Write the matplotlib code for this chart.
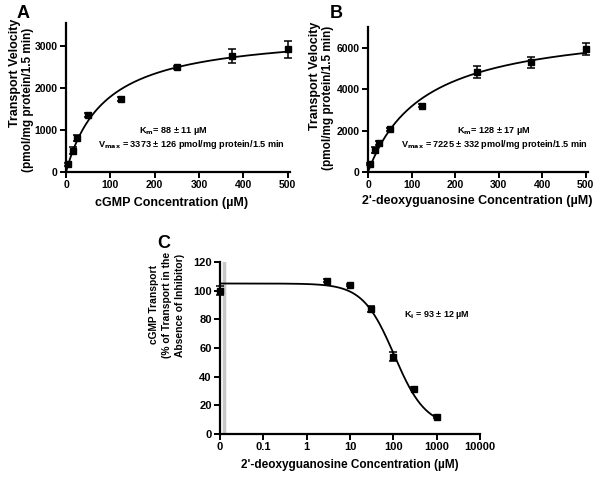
import numpy as np
import matplotlib.pyplot as plt

plt.rcParams['font.family'] = ['Liberation Sans', 'DejaVu Sans']
plt.rcParams['font.weight'] = 'bold'

# panel A - cGMP uptake
a_conc = [5, 15, 25, 50, 125, 250, 375, 500]
a_vel = [180, 510, 810, 1350, 1740, 2490, 2760, 2920]
a_err = [40, 90, 60, 50, 40, 40, 160, 200]
a_km, a_vmax = 88, 3373

# panel B - 2'-deoxyguanosine uptake
b_conc = [5, 15, 25, 50, 125, 250, 375, 500]
b_vel = [380, 1060, 1390, 2060, 3210, 4830, 5300, 5950]
b_err = [60, 150, 100, 80, 60, 280, 260, 280]
b_km, b_vmax = 128, 7225

# panel C - inhibition (0 plotted at 0.01)
c_conc = [0.01, 3, 10, 30, 100, 300, 1000]
c_pct = [100, 107, 104, 87, 54, 31.5, 12]
c_err = [3, 1, 1, 2, 3, 1, 1]
c_top, c_bottom, c_ic50, c_hill = 105, 5, 105, 1.2
c_ticks = [0.01, 0.1, 1, 10, 100, 1000, 10000]
c_ticklabels = ['0', '0.1', '1', '10', '100', '1000', '10000']

W, H = 600, 479
fig = plt.figure(figsize=(6, 4.79), dpi=100)


def box(x0, y0, x1, y1):
    # pixel box (top-left origin) -> figure fraction
    return [x0 / W, 1 - y1 / H, (x1 - x0) / W, (y1 - y0) / H]


def style(ax, fs):
    for s in ['top', 'right']:
        ax.spines[s].set_visible(False)
    for s in ['left', 'bottom']:
        ax.spines[s].set_linewidth(1.6)
    ax.tick_params(width=1.4, length=4, labelsize=fs, pad=2)
    for lab in ax.get_xticklabels() + ax.get_yticklabels():
        lab.set_fontweight('bold')


def mm_panel(ax, conc, vel, err, km, vmax, ymax, yticks):
    xs = np.linspace(0, 500, 300)
    ax.plot(xs, vmax * xs / (km + xs), color='black', lw=1.3, zorder=2)
    ax.errorbar(conc, vel, yerr=err, fmt='s', color='black', ms=5,
                capsize=3, elinewidth=1.1, capthick=1.1, zorder=3, clip_on=False)
    ax.set_xlim(0, 505)
    ax.set_ylim(0, ymax)
    ax.set_xticks([0, 100, 200, 300, 400, 500])
    ax.set_yticks(yticks)
    style(ax, 7.5)


axA = fig.add_axes(box(66, 23, 290, 172))
mm_panel(axA, a_conc, a_vel, a_err, a_km, a_vmax, 3550, [0, 1000, 2000, 3000])
axA.text(0.48, 0.275, r'K$_\mathbf{m}$= 88 ± 11 µM', transform=axA.transAxes,
         ha='center', va='center', fontsize=6.6, fontweight='bold')
axA.text(0.56, 0.185, r'V$_\mathbf{max}$ = 3373 ± 126 pmol/mg protein/1.5 min',
         transform=axA.transAxes, ha='center', va='center', fontsize=6.6,
         fontweight='bold')

axB = fig.add_axes(box(368, 27, 588, 172))
mm_panel(axB, b_conc, b_vel, b_err, b_km, b_vmax, 7000, [0, 2000, 4000, 6000])
axB.text(0.57, 0.28, r'K$_\mathbf{m}$= 128 ± 17 µM', transform=axB.transAxes,
         ha='center', va='center', fontsize=6.6, fontweight='bold')
axB.text(0.575, 0.19, r'V$_\mathbf{max}$ = 7225 ± 332 pmol/mg protein/1.5 min',
         transform=axB.transAxes, ha='center', va='center', fontsize=6.6,
         fontweight='bold')

# panel C
axC = fig.add_axes(box(220, 262, 480, 434))
axC.set_xscale('log')
axC.axvline(0.0125, color='0.78', lw=2.5, zorder=1)
xs = np.logspace(-2, 3, 400)
axC.plot(xs, c_bottom + (c_top - c_bottom) / (1 + (xs / c_ic50) ** c_hill),
         color='black', lw=1.3, zorder=2)
axC.errorbar(c_conc, c_pct, yerr=c_err, fmt='s', color='black', ms=5,
             capsize=3, elinewidth=1.1, capthick=1.1, zorder=3, clip_on=False)
axC.set_xlim(0.01, 10000)
axC.set_ylim(0, 120)
axC.set_xticks(c_ticks)
axC.set_xticklabels(c_ticklabels)
axC.minorticks_off()
axC.set_yticks(range(0, 121, 20))
style(axC, 8)
axC.text(0.835, 0.69, r'K$_\mathbf{i}$ = 93 ± 12 µM', transform=axC.transAxes,
         ha='center', va='center', fontsize=6.5, fontweight='bold')

# axis titles and panel letters
def ftxt(x, y, s, **kw):
    fig.text(x / W, 1 - y / H, s, ha='center', va='center',
             fontweight='bold', **kw)

ftxt(15, 73, 'Transport Velocity', rotation=90, fontsize=9)
ftxt(28, 100, '(pmol/mg protein/1.5 min)', rotation=90, fontsize=8.5)
ftxt(315, 76, 'Transport Velocity', rotation=90, fontsize=9)
ftxt(328, 98, '(pmol/mg protein/1.5 min)', rotation=90, fontsize=8.5)
ftxt(172, 203, 'cGMP Concentration (µM)', fontsize=9)
ftxt(477, 201, "2'-deoxyguanosine Concentration (µM)", fontsize=9)
ftxt(350, 465, "2'-deoxyguanosine Concentration (µM)", fontsize=8.5)
ftxt(154, 305, 'cGMP Transport', rotation=90, fontsize=7.4)
ftxt(167, 305, '(% of Transport in the', rotation=90, fontsize=7.4)
ftxt(180, 305, 'Absence of Inhibitor)', rotation=90, fontsize=7.4)

ftxt(23, 14, 'A', fontsize=13)
ftxt(336, 14, 'B', fontsize=13)
ftxt(164, 243, 'C', fontsize=13)

fig.savefig('out.png', dpi=100)
